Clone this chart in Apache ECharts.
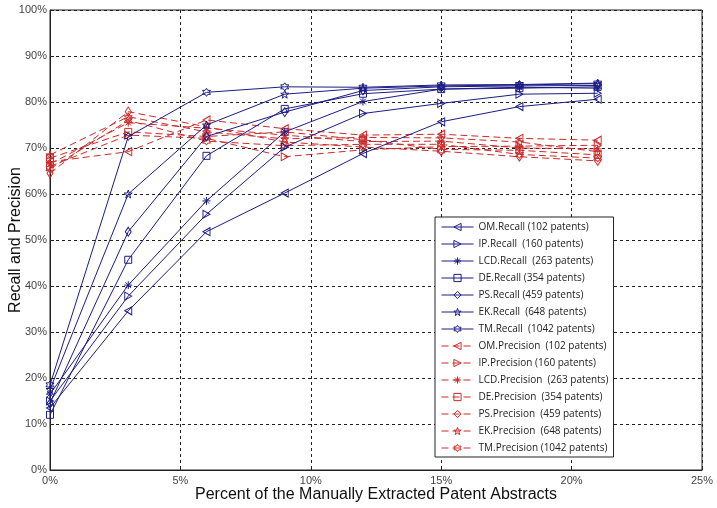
<!DOCTYPE html>
<html>
<head>
<meta charset="utf-8">
<script src="https://cdn.jsdelivr.net/npm/echarts@6/dist/echarts.min.js"></script>
<style>html,body{margin:0;padding:0;background:#fff;}#c{width:717px;height:508px;}</style>
</head>
<body>
<div id="c"></div>
<script>
// x positions (percent of manually extracted patent abstracts)
var xValues = [0, 3, 6, 9, 12, 15, 18, 21];
var xTicks = [0, 5, 10, 15, 20, 25];
var yTicks = [0, 10, 20, 30, 40, 50, 60, 70, 80, 90, 100];

var recallNames = ['OM.Recall (102 patents)', 'IP.Recall  (160 patents)', 'LCD.Recall  (263 patents)', 'DE.Recall (354 patents)', 'PS.Recall (459 patents)', 'EK.Recall  (648 patents)', 'TM.Recall  (1042 patents)'];
var precisionNames = ['OM.Precision  (102 patents)', 'IP.Precision (160 patents)', 'LCD.Precision  (263 patents)', 'DE.Precision  (354 patents)', 'PS.Precision  (459 patents)', 'EK.Precision  (648 patents)', 'TM.Precision (1042 patents)'];

var omRecall  = [13.5, 34.6, 51.8, 60.2, 68.8, 75.7, 79.0, 80.6];
var ipRecall  = [15.0, 37.8, 55.6, 70.2, 77.5, 79.7, 81.7, 81.9];
var lcdRecall = [16.5, 40.2, 58.5, 73.5, 80.1, 82.8, 83.2, 83.0];
var deRecall  = [12.0, 45.7, 68.3, 78.5, 81.8, 82.8, 83.0, 83.3];
var psRecall  = [14.5, 51.8, 72.5, 77.8, 82.5, 83.3, 83.5, 83.6];
var ekRecall  = [17.5, 60.0, 75.0, 81.7, 83.0, 83.5, 83.7, 84.0];
var tmRecall  = [18.5, 72.5, 82.1, 83.3, 83.2, 83.7, 83.8, 84.1];

var omPrecision  = [67.0, 69.2, 76.1, 74.2, 72.8, 73.0, 72.1, 71.7];
var ipPrecision  = [66.0, 72.8, 72.1, 68.1, 69.6, 70.3, 70.4, 70.6];
var lcdPrecision = [66.5, 75.5, 74.3, 72.8, 71.4, 71.5, 70.0, 69.8];
var dePrecision  = [67.8, 73.5, 72.5, 73.5, 71.8, 69.7, 69.5, 68.5];
var psPrecision  = [64.5, 77.9, 74.6, 71.3, 70.2, 69.3, 68.1, 67.2];
var ekPrecision  = [68.5, 76.8, 73.5, 72.0, 72.3, 72.2, 71.3, 69.2];
var tmPrecision  = [65.5, 76.0, 71.5, 70.5, 70.8, 70.8, 68.6, 67.8];

var recallData = [omRecall, ipRecall, lcdRecall, deRecall, psRecall, ekRecall, tmRecall];
var precisionData = [omPrecision, ipPrecision, lcdPrecision, dePrecision, psPrecision, ekPrecision, tmPrecision];

var symbols = [
  'path://M0,5L10,0L10,10Z',
  'path://M10,5L0,0L0,10Z',
  'path://M5,0L5,10M0,5L10,5M1.5,1.5L8.5,8.5M8.5,1.5L1.5,8.5',
  'rect',
  'diamond',
  'path://M5,0L6.18,3.38L9.76,3.45L6.9,5.62L7.94,9.05L5,7L2.06,9.05L3.1,5.62L0.24,3.45L3.82,3.38Z',
  'path://M5,0L6.44,2.5L9.33,2.5L7.89,5L9.33,7.5L6.44,7.5L5,10L3.56,7.5L0.67,7.5L2.11,5L0.67,2.5L3.56,2.5Z'
];
var symbolSizes = [[7,8],[7,8],8,7,[6,9],8,8];

var BLUE = '#1c1c86';
var RED = '#cc2a2a';

function pairs(arr){ return arr.map(function(v,i){ return [xValues[i], v]; }); }

var series = [];
recallData.forEach(function(d,i){
  series.push({
    name: recallNames[i], type: 'line', data: pairs(d),
    symbol: symbols[i], symbolSize: symbolSizes[i], showAllSymbol: true,
    lineStyle: {color: BLUE, width: 1},
    itemStyle: {color: 'none', borderColor: BLUE, borderWidth: 1},
    emphasis: {disabled: true}, z: 3
  });
});
precisionData.forEach(function(d,i){
  series.push({
    name: precisionNames[i], type: 'line', data: pairs(d),
    symbol: symbols[i], symbolSize: symbolSizes[i], showAllSymbol: true,
    lineStyle: {color: RED, width: 1, type: [7, 4]},
    itemStyle: {color: 'none', borderColor: RED, borderWidth: 1},
    emphasis: {disabled: true}, z: 2
  });
});

var chart = echarts.init(document.getElementById('c'), null, {renderer: 'canvas'});
chart.setOption({
  animation: false,
  backgroundColor: '#fff',
  grid: {left: 50, right: 15, top: 10, bottom: 38, containLabel: false, outerBoundsMode: 'none',
         show: true, borderColor: '#222', borderWidth: 1, backgroundColor: 'transparent'},
  legend: {
    orient: 'vertical', left: 435, top: 217,
    data: recallNames.concat(precisionNames),
    itemWidth: 32, itemHeight: 9, itemGap: 5,
    padding: [4, 5, 3, 6],
    backgroundColor: '#fff', borderColor: '#222', borderWidth: 1,
    itemStyle: {color: 'transparent', borderWidth: 1},
    lineStyle: {width: 1},
    textStyle: {fontFamily: 'Open Sans', fontSize: 10, color: '#222', lineHeight: 12}
  },
  xAxis: {
    type: 'value', min: xTicks[0], max: xTicks[xTicks.length-1], interval: 5,
    name: 'Percent of the Manually Extracted Patent Abstracts',
    nameLocation: 'middle', nameGap: 17, nameMoveOverlap: false,
    nameTextStyle: {fontFamily: 'Liberation Sans', fontSize: 16, color: '#111'},
    axisLine: {show: true, lineStyle: {color: '#222'}},
    axisTick: {show: true, inside: true, length: 4, lineStyle: {color: '#222'}},
    axisLabel: {formatter: '{value}%', fontFamily: 'Liberation Sans', fontSize: 11, color: '#444', margin: 5},
    splitLine: {show: true, lineStyle: {color: '#222', type: [3, 3], width: 1}}
  },
  yAxis: {
    type: 'value', min: yTicks[0], max: yTicks[yTicks.length-1], interval: 10,
    name: 'Recall and Precision',
    nameLocation: 'middle', nameGap: 26, nameMoveOverlap: false,
    nameTextStyle: {fontFamily: 'Liberation Sans', fontSize: 16, color: '#111'},
    axisLine: {show: true, lineStyle: {color: '#222'}},
    axisTick: {show: true, inside: true, length: 4, lineStyle: {color: '#222'}},
    axisLabel: {formatter: '{value}%', fontFamily: 'Liberation Sans', fontSize: 11, color: '#444', margin: 3},
    splitLine: {show: true, lineStyle: {color: '#222', type: [3, 3], width: 1}}
  },
  series: series
});
</script>
</body>
</html>
